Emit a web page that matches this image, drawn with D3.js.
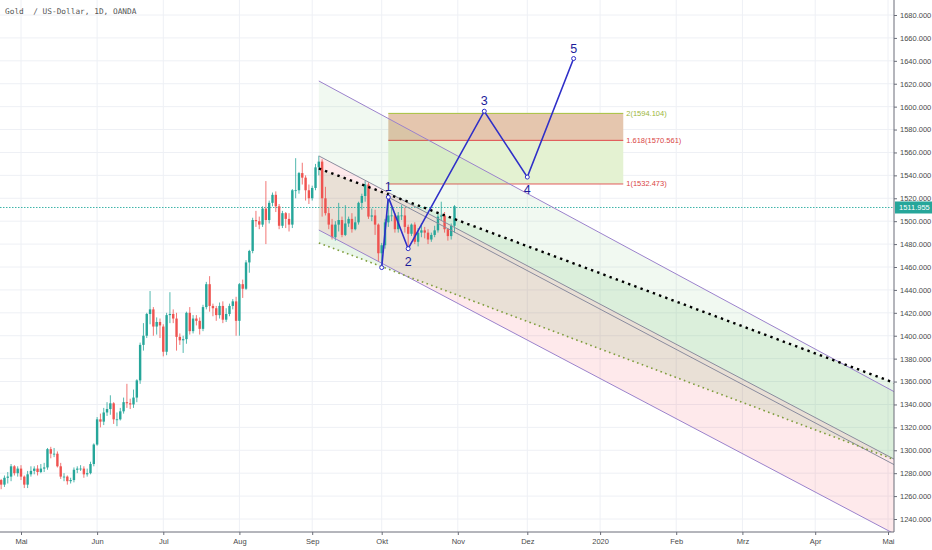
<!DOCTYPE html>
<html>
<head>
<meta charset="utf-8">
<script src="https://cdn.jsdelivr.net/npm/d3@7"></script>
<style>
  body { margin: 0; background: #fff; }
  svg { display: block; font-family: "Liberation Sans", Arial, sans-serif; }
</style>
</head>
<body>
<div id="chart"></div>
<script>
// daily candles, 22 Apr 2019 .. 31 Oct 2019 (weekdays)
const opens = [1276,1274,1270,1276,1277,1286,1280,
  1284,1277,1270,1279,1282,1284,1281,1284,1285,1301,1297,1297,1286,1277,1277,1273,1274,1283,1284,1284,1279,1280,1288,
  1305,1327,1325,1333,1336,1341,1327,1327,1334,1342,1341,1340,1346,1361,1392,1400,1419,1423,1408,1412,
  1408,1386,1418,1419,1415,1399,1396,1397,1420,1404,1415,1413,1406,1425,1445,1426,1424,1418,1426,1414,1419,1426,1430,
  1413,1445,1441,1464,1474,1501,1500,1497,1511,1501,1516,1523,1513,1496,1507,1502,1497,1527,1527,1542,1538,1527,
  1520,1529,1547,1552,1520,1507,1497,1486,1497,1501,1488,1498,1502,1493,1499,1516,1522,1532,1504,1505,1497,
  1472,1479,1499,1505,1505,1493,1505,1505,1495,1489,1497,1482,1490,1492,1490,1484,1488,1492,1504,1505,1493,1487,1496];
const highs = [1278,1275,1278,1281,1288,1287,1286,
  1287,1278,1282,1286,1286,1287,1288,1289,1302,1303,1302,1299,1289,1280,1278,1276,1285,1286,1287,1286,1284,1290,1306,
  1329,1332,1337,1342,1348,1342,1333,1337,1346,1358,1345,1353,1362,1394,1411,1420,1439,1425,1416,1415,
  1410,1420,1438,1423,1420,1402,1400,1421,1425,1418,1418,1416,1427,1447,1452,1428,1426,1429,1430,1424,1428,1432,1434,
  1446,1449,1466,1475,1503,1509,1504,1513,1535,1518,1525,1526,1515,1509,1508,1507,1528,1555,1543,1551,1540,1532,
  1531,1550,1557,1554,1530,1512,1502,1500,1516,1504,1514,1504,1507,1504,1517,1524,1535,1534,1511,1510,1498,
  1481,1502,1519,1512,1507,1508,1514,1512,1497,1498,1499,1494,1498,1495,1493,1490,1496,1507,1517,1508,1494,1498,1514];
const lows = [1270,1266,1268,1271,1273,1278,1277,
  1274,1267,1267,1277,1279,1278,1280,1281,1283,1293,1294,1285,1275,1273,1270,1271,1272,1280,1282,1276,1277,1279,1286,
  1304,1320,1322,1330,1331,1323,1321,1326,1332,1337,1336,1337,1342,1358,1387,1398,1410,1400,1401,1398,
  1382,1383,1411,1411,1387,1392,1385,1393,1401,1402,1409,1401,1404,1423,1421,1417,1413,1415,1411,1412,1417,1423,1400,
  1400,1433,1440,1455,1472,1495,1493,1495,1480,1498,1513,1508,1493,1494,1494,1491,1494,1520,1524,1532,1518,1515,
  1518,1527,1540,1504,1505,1493,1484,1483,1491,1486,1487,1495,1490,1492,1497,1510,1517,1502,1500,1488,1465,
  1459,1476,1495,1500,1490,1490,1501,1490,1474,1487,1480,1478,1486,1485,1480,1482,1486,1490,1501,1490,1483,1484,1490];
const closes = [1274,1270,1276,1277,1286,1280,1284,
  1277,1270,1279,1282,1284,1281,1284,1285,1301,1297,1297,1286,1277,1277,1273,1274,1283,1284,1284,1279,1280,1288,1305,
  1327,1325,1333,1336,1341,1327,1327,1334,1342,1341,1340,1346,1361,1392,1400,1419,1423,1408,1412,1409,
  1386,1418,1419,1415,1399,1396,1397,1420,1404,1415,1413,1406,1425,1445,1426,1424,1418,1426,1414,1419,1426,1430,1413,
  1445,1441,1464,1474,1501,1500,1497,1511,1501,1516,1523,1513,1496,1507,1502,1497,1527,1527,1542,1538,1527,1520,
  1529,1547,1552,1520,1507,1497,1486,1497,1501,1488,1498,1502,1493,1499,1516,1522,1532,1504,1505,1497,1472,
  1479,1499,1505,1505,1493,1505,1505,1495,1489,1497,1482,1490,1492,1490,1484,1488,1492,1504,1505,1493,1487,1496,1513];
const lastPrice = 1511.955;

const monthStarts = ["2019-05-01","2019-06-01","2019-07-01","2019-08-01","2019-09-01","2019-10-01","2019-11-01",
  "2019-12-01","2020-01-01","2020-02-01","2020-03-01","2020-04-01","2020-05-01"];
const monthLabels = ["Mai","Jun","Jul","Aug","Sep","Okt","Nov","Dez","2020","Feb","Mrz","Apr","Mai"];
const priceTicks = d3.range(1240, 1681, 20);

// elliott wave count
const waveDates = ["2019-10-01","2019-10-03","2019-10-11","2019-11-13","2019-12-02","2019-12-20"];
const wavePrices = [1459.5, 1521, 1476, 1596, 1538.5, 1642];
const waveLabels = ["", "1", "2", "3", "4", "5"];

// fib extension
const fibLevels = ["1", "1.618", "2"];
const fibPrices = [1532.473, 1570.561, 1594.104];
const fibFrom = "2019-10-03", fibTo = "2020-01-10";

// channel lines: [date1, price1, date2, price2], extended right
const chanTop = ["2019-09-04", 1622.4, "2020-04-30", 1355.6];
const chanMid = ["2019-09-04", 1557, "2020-04-30", 1296.6];
const chanMid2 = ["2019-10-03", 1521, "2020-04-30", 1291.8];
const chanBottom = ["2019-09-04", 1492.3, "2020-04-30", 1231.5];
const dotUpper = ["2019-09-04", 1546, "2020-04-30", 1362];
const dotLower = ["2019-09-04", 1481, "2020-04-30", 1295];

const width = 932, height = 550, plotRight = 894, plotBottom = 532;

const parse = d3.timeParse("%Y-%m-%d");
const days = d3.timeDay.range(new Date(2019, 3, 22), new Date(2020, 4, 10)).filter(d => d.getDay() % 6 !== 0);
const dayIndex = s => d3.bisector(d => d).left(days, parse(s));

const x = d3.scaleLinear().domain([7, 269]).range([21, 888]);
const y = d3.scaleLinear().domain([1240, 1680]).range([519, 15]);

const svg = d3.select("#chart").append("svg")
  .attr("width", width)
  .attr("height", height);

svg.append("clipPath").attr("id", "plot")
  .append("rect").attr("width", plotRight).attr("height", plotBottom);

const monthIdx = monthStarts.map(dayIndex);

// grid
const grid = svg.append("g");
grid.selectAll("line.v").data(monthIdx).join("line")
  .attr("x1", d => x(d)).attr("x2", d => x(d))
  .attr("y1", 0).attr("y2", plotBottom)
  .attr("stroke", "#eef0f5");
grid.selectAll("line.h").data(priceTicks).join("line")
  .attr("x1", 0).attr("x2", plotRight)
  .attr("y1", d => y(d)).attr("y2", d => y(d))
  .attr("stroke", "#eef0f5");

const plot = svg.append("g").attr("clip-path", "url(#plot)");

// fib extension bands
const fx1 = x(dayIndex(fibFrom)), fx2 = x(dayIndex(fibTo));
const fibFills = ["#e4f2d2", "#e5c6ae"];
plot.selectAll("rect.fib").data([0, 1]).join("rect")
  .attr("x", fx1)
  .attr("width", fx2 - fx1)
  .attr("y", i => y(fibPrices[i + 1]))
  .attr("height", i => y(fibPrices[i]) - y(fibPrices[i + 1]))
  .attr("fill", (i) => fibFills[i]);

const fibColors = ["#e25c5c", "#e04848", "#a6c13c"];
plot.selectAll("line.fib").data(fibPrices).join("line")
  .attr("x1", fx1).attr("x2", fx2)
  .attr("y1", d => y(d)).attr("y2", d => y(d))
  .attr("stroke", (d, i) => fibColors[i])
  .attr("stroke-width", 1);
svg.selectAll("text.fib").data(fibPrices).join("text")
  .attr("x", fx2 + 3)
  .attr("y", d => y(d) + 2.5)
  .attr("font-size", 7.5)
  .attr("fill", (d, i) => i == 2 ? "#9cb63a" : "#d94545")
  .text((d, i) => `${fibLevels[i]}(${d.toFixed(3)})`);

// channel geometry
const endIdx = x.invert(plotRight + 2);
function extend(l) {
  const i1 = dayIndex(l[0]), i2 = dayIndex(l[2]);
  const slope = (l[3] - l[1]) / (i2 - i1);
  return [[x(i1), y(l[1])], [x(endIdx), y(l[1] + slope * (endIdx - i1))]];
}
const band = (a, b) => {
  const pa = extend(a), pb = extend(b);
  return [pa[0], pa[1], pb[1], pb[0]];
};

plot.append("polygon").attr("points", band(chanTop, chanMid).join(" "))
  .attr("fill", "rgba(76,175,80,0.08)");
plot.append("polygon").attr("points", band(dotUpper, dotLower).join(" "))
  .attr("fill", "rgba(76,175,80,0.13)");
plot.append("polygon").attr("points", band(chanMid, chanBottom).join(" "))
  .attr("fill", "rgba(242,54,69,0.11)");

// last price line (under the candles)
plot.append("path")
  .attr("d", `M0,${y(lastPrice)}H${plotRight}`)
  .attr("fill", "none")
  .style("stroke", "#3fb5a9")
  .style("stroke-width", 1)
  .style("stroke-dasharray", "1.5 1.5");

// candles
const candles = plot.append("g");
const up = i => closes[i] >= opens[i];
candles.selectAll("line").data(closes).join("line")
  .attr("x1", (d, i) => x(i)).attr("x2", (d, i) => x(i))
  .attr("y1", (d, i) => y(highs[i])).attr("y2", (d, i) => y(lows[i]))
  .attr("stroke", (d, i) => up(i) ? "#26a69a" : "#ef5350")
  .attr("stroke-width", 0.8);
candles.selectAll("rect").data(closes).join("rect")
  .attr("x", (d, i) => x(i) - 1.2)
  .attr("width", 2.4)
  .attr("y", (d, i) => y(Math.max(opens[i], closes[i])))
  .attr("height", (d, i) => Math.max(0.8, Math.abs(y(opens[i]) - y(closes[i]))))
  .attr("fill", (d, i) => up(i) ? "#26a69a" : "#ef5350");

// channel lines
const lineStyles = [
  [chanTop, "#9b82cc", 1, null],
  [chanMid, "#8a8c9e", 1, null],
  [chanMid2, "#8a8c9e", 1, null],
  [chanBottom, "#9b82cc", 1, null],
  [dotLower, "#7f9d3c", 1.6, "1.6 3.4"],
  [dotUpper, "#000000", 2.4, "2.4 4.2"]
];
plot.selectAll("line.chan").data(lineStyles).join("line")
  .attr("x1", d => extend(d[0])[0][0]).attr("y1", d => extend(d[0])[0][1])
  .attr("x2", d => extend(d[0])[1][0]).attr("y2", d => extend(d[0])[1][1])
  .attr("stroke", d => d[1])
  .attr("stroke-width", d => d[2])
  .attr("stroke-dasharray", d => d[3]);

// waves
const wavePts = waveDates.map((d, i) => [x(dayIndex(d)), y(wavePrices[i])]);
plot.append("path")
  .attr("d", d3.line()(wavePts))
  .attr("fill", "none")
  .attr("stroke", "#2f2fc8")
  .attr("stroke-width", 1.6);
plot.selectAll("circle").data(wavePts).join("circle")
  .attr("cx", d => d[0]).attr("cy", d => d[1])
  .attr("r", 2)
  .attr("fill", "#fff")
  .attr("stroke", "#2f2fc8");
plot.selectAll("text.wave").data(wavePts).join("text")
  .attr("x", d => d[0])
  .attr("y", (d, i) => i % 2 ? d[1] - 6 : d[1] + 17)
  .attr("text-anchor", "middle")
  .attr("font-size", 12.5)
  .attr("fill", "#1c1c9a")
  .text((d, i) => waveLabels[i]);

// axes
const yAxis = svg.append("g").attr("transform", `translate(${plotRight},0)`)
  .call(d3.axisRight(y).tickValues(priceTicks).tickFormat(d3.format(".3f")).tickSize(3).tickPadding(3));
yAxis.select(".domain").attr("stroke", "#6a6d78").attr("d", `M0,0V${plotBottom}`);
yAxis.selectAll(".tick line").attr("stroke", "#6a6d78");
yAxis.selectAll("text").attr("font-size", 7.5).attr("fill", "#4a4a4a").attr("font-family", "Liberation Sans, Arial");

const xAxis = svg.append("g").attr("transform", `translate(0,${plotBottom})`)
  .call(d3.axisBottom(x).tickValues(monthIdx).tickFormat((d, i) => monthLabels[i]).tickSize(3).tickPadding(4));
xAxis.select(".domain").attr("stroke", "#6a6d78").attr("d", `M0,0H${plotRight}`);
xAxis.selectAll(".tick line").attr("stroke", "#6a6d78");
xAxis.selectAll("text").attr("font-size", 7.5).attr("fill", "#4a4a4a").attr("font-family", "Liberation Sans, Arial");

// last price tag
svg.append("rect")
  .attr("x", plotRight + 1).attr("y", y(lastPrice) - 6)
  .attr("width", width - plotRight - 1).attr("height", 12)
  .attr("fill", "#26a69a");
svg.append("text")
  .attr("x", plotRight + 5).attr("y", y(lastPrice) + 2.7)
  .attr("font-size", 7.5)
  .attr("fill", "#fff")
  .text(d3.format(".3f")(lastPrice));

// title
svg.append("text")
  .attr("x", 5).attr("y", 14)
  .attr("font-family", "DejaVu Sans Mono, monospace")
  .attr("font-size", 7.8)
  .attr("fill", "#555")
  .style("white-space", "pre")
  .text("Gold  / US-Dollar, 1D, OANDA");
</script>
</body>
</html>
